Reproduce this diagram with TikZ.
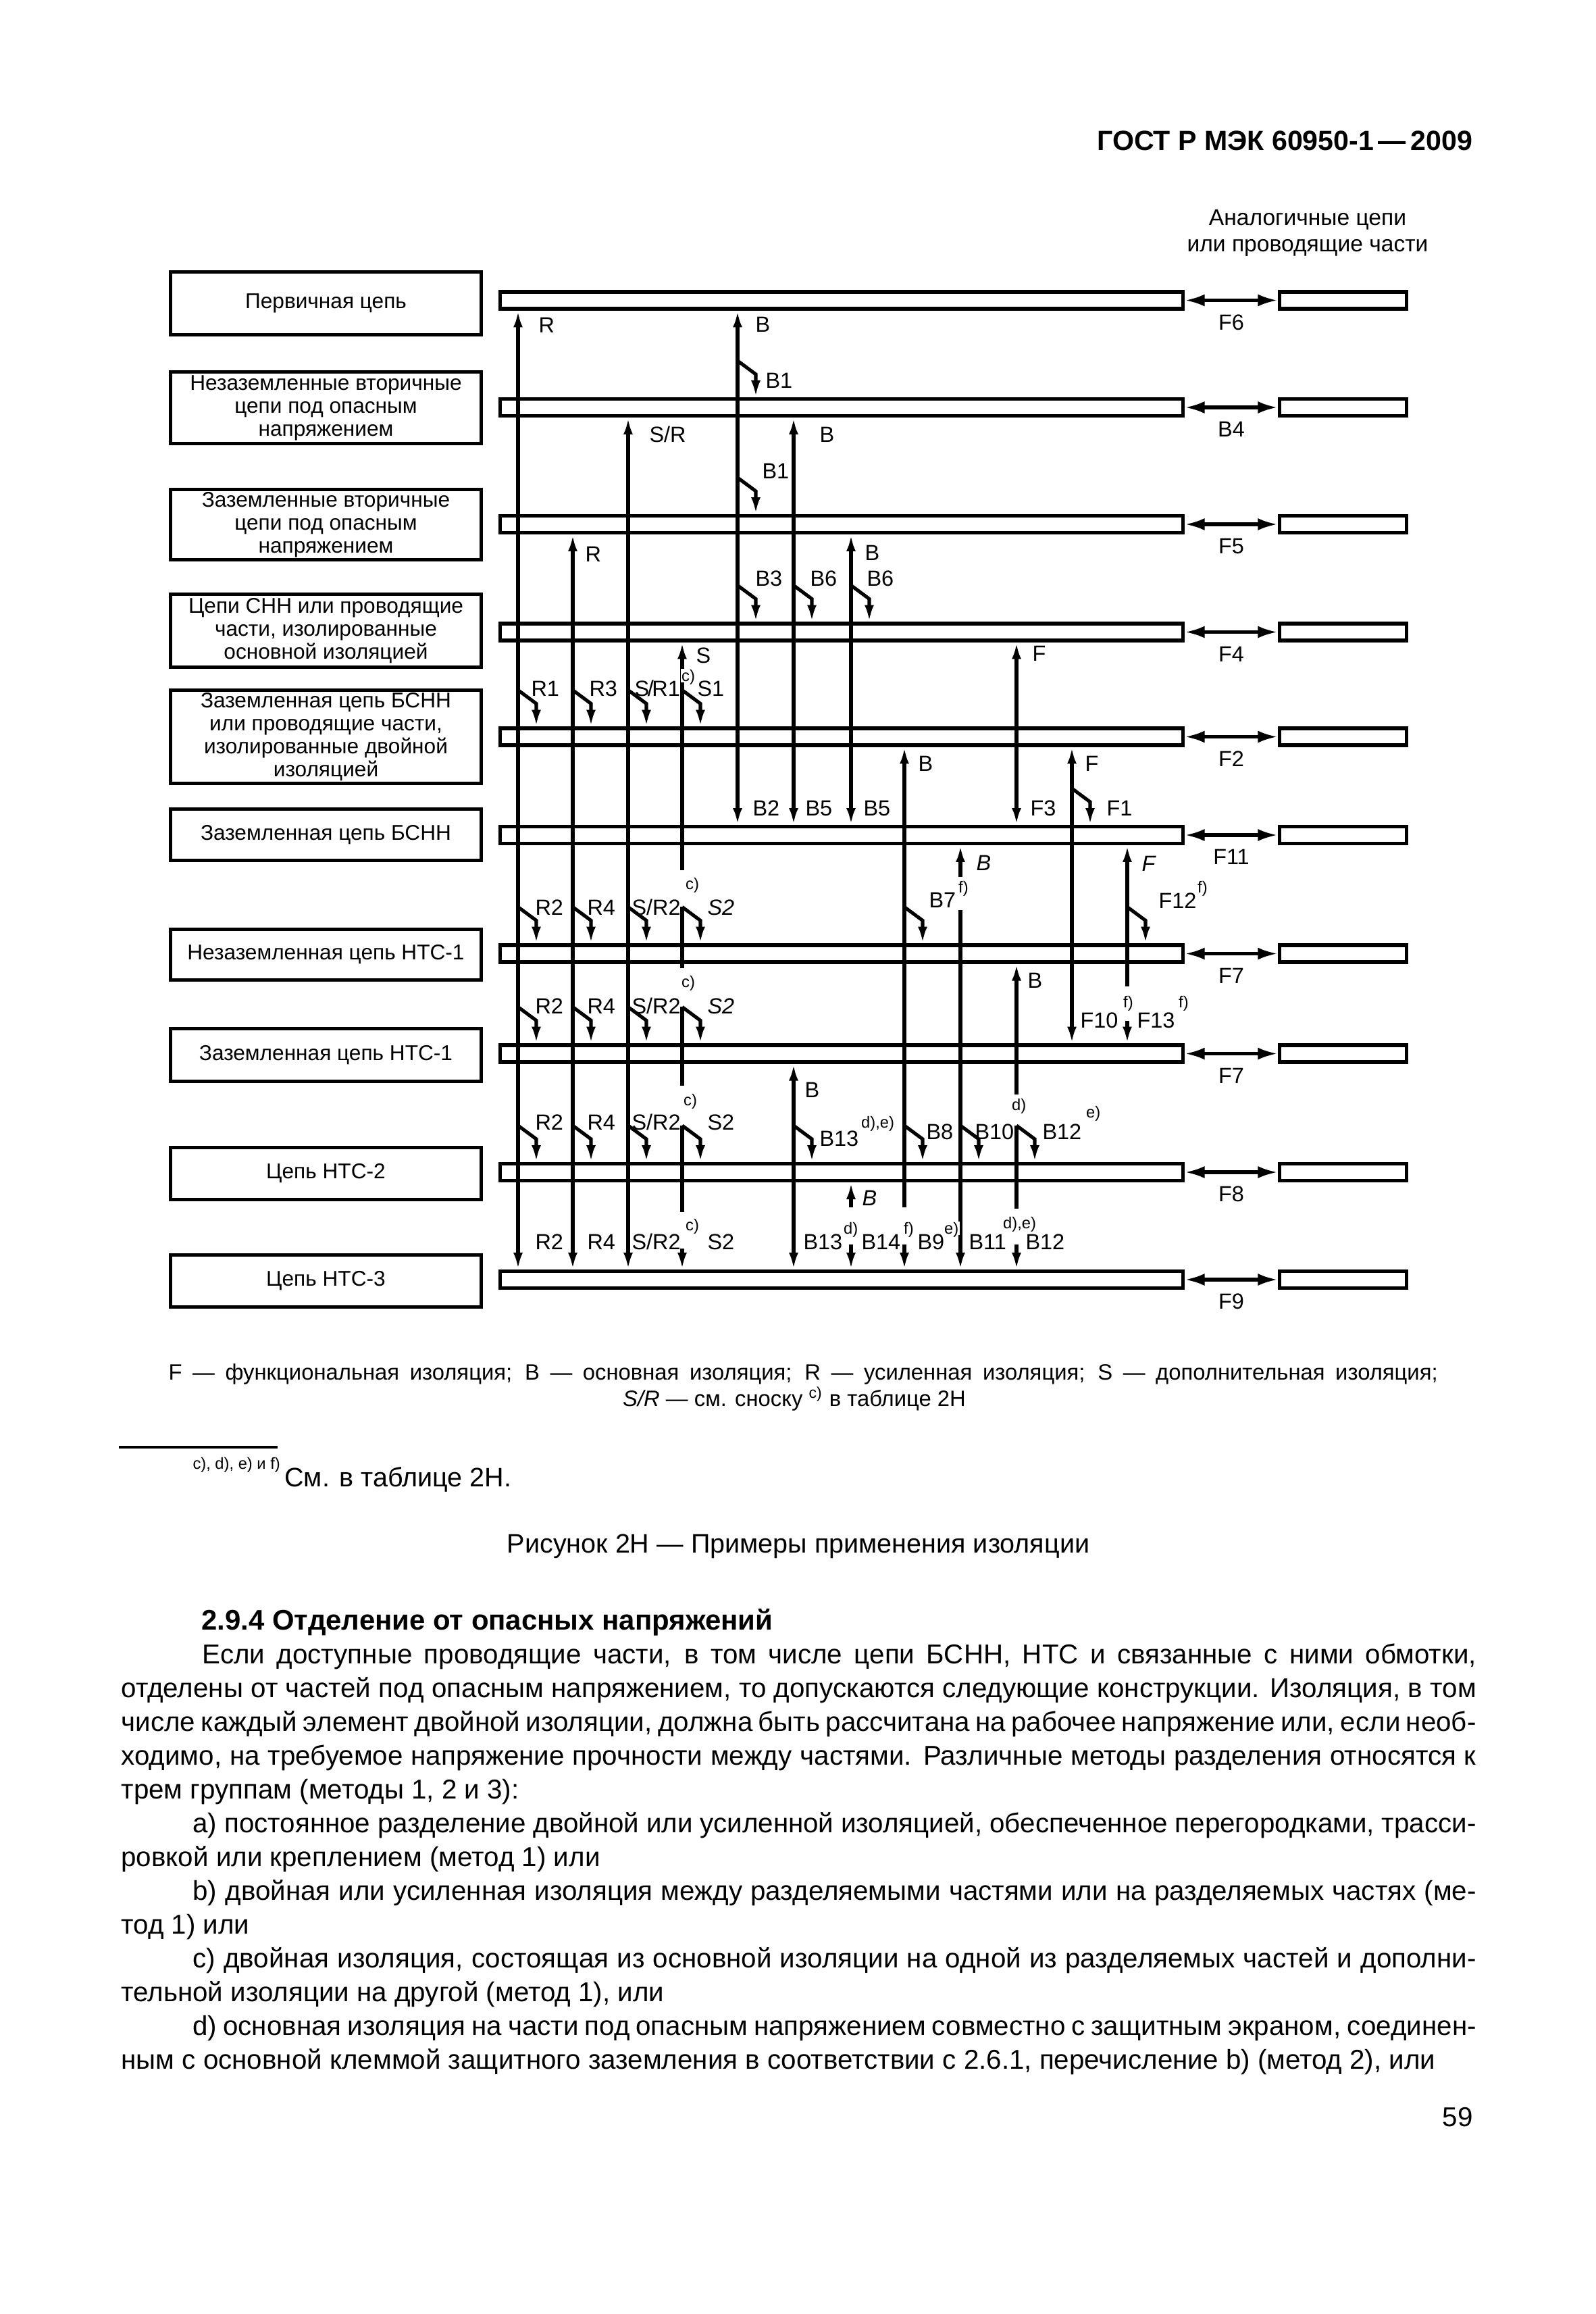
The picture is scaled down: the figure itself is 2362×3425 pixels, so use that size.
\documentclass[tikz,border=0pt]{standalone}
\usepackage{fontspec}
\setmainfont{Liberation Sans}
\usetikzlibrary{arrows.meta,calc}

% insulation tap: short bent arrow from a column down to a bar
\newcommand{\tap}[2]{\draw[->] ($(#1|-#2.north)+(0,-54)$) -- ++(27,20) -- ($(#1|-#2.north)+(27,0)$);}

\tikzset{
  cbox/.style={draw, minimum width=460*0.0889mm, inner sep=0pt, align=center, font=\fontsize{8}{8.6}\selectfont},
  bar/.style={draw, minimum width=1011*0.0889mm, minimum height=25*0.0889mm, inner sep=0pt},
  rbox/.style={draw, minimum width=188*0.0889mm, minimum height=25*0.0889mm, inner sep=0pt},
  dbl/.style={{Latex[length=7.5pt,width=4.6pt]}-{Latex[length=7.5pt,width=4.6pt]}, line width=1.3pt},
  lbl/.style={inner sep=0pt, anchor=west, text height=5.9pt, text depth=0pt, font=\fontsize{8.2}{9}\selectfont},
  supl/.style={inner sep=0.4pt, anchor=west, fill=white, text height=4.3pt, text depth=0pt, font=\fontsize{6}{7}\selectfont},
  txt/.style={inner sep=0pt, anchor=base west, font=\fontsize{10.2}{12.6}\selectfont},
}

\begin{document}
\begin{tikzpicture}[x=0.0889mm, y=-0.0889mm, line width=1.3pt, >={Latex[length=6.3pt,width=3.5pt]}]
\path[use as bounding box, fill=white] (0,0) rectangle (2362,3425);

% header
\node[inner sep=0pt, anchor=base east, font=\fontsize{10.4}{12}\selectfont\bfseries] (hdr) at (2183,222) {ГОСТ Р МЭК 60950-1\,—\,2009};
\node[inner sep=0pt, anchor=base, font=\fontsize{8.5}{10}\selectfont] (an1) at (1936,333) {Аналогичные цепи};
\node[inner sep=0pt, anchor=base, font=\fontsize{8.5}{10}\selectfont] (an2) at (1936,372) {или проводящие части};

% circuits
\foreach \n/\y/\h/\t in {
  1/449/98/{Первичная цепь},
  2/603.5/111/{Незаземленные вторичные\\цепи под опасным\\напряжением},
  3/776.5/109/{Заземленные вторичные\\цепи под опасным\\напряжением},
  4/933.5/113/{Цепи СНН или проводящие\\части, изолированные\\основной изоляцией},
  5/1090.5/143/{Заземленная цепь БСНН\\или проводящие части,\\изолированные двойной\\изоляцией},
  6/1235.5/81/{Заземленная цепь БСНН},
  7/1413/80/{Незаземленная цепь НТС-1},
  8/1561.5/83/{Заземленная цепь НТС-1},
  9/1737/82/{Цепь НТС-2},
  10/1896/82/{Цепь НТС-3}}
  \node[cbox, minimum height=(\h-5)*0.0889mm] (c\n) at (482.5,\y) {\t};

% bars and similar circuits
\foreach \n/\y/\f in {1/444.5/F6, 2/603/B4, 3/776/F5, 4/935.5/F4, 5/1090.5/F2,
  6/1236/F11, 7/1411.5/F7, 8/1559.5/F7, 9/1735/F8, 10/1894/F9}{
  \node[bar] (b\n) at (1246,\y) {};
  \node[rbox] (r\n) at (1988.5,\y) {};
  \draw[dbl] (b\n) -- (r\n);
  \node[lbl, anchor=north] (f\n) at ($(b\n.south east)!.5!(r\n.south west)+(0,3)$) {\f};
}

% columns
\coordinate (cR) at (767,0);
\coordinate (cR3) at (848,0);
\coordinate (cSR) at (930,0);
\coordinate (cS) at (1010,0);
\coordinate (cB1) at (1092,0);
\coordinate (cB5) at (1175,0);
\coordinate (cB6) at (1260,0);
\coordinate (cB7) at (1339,0);
\coordinate (cB10) at (1422,0);
\coordinate (cF) at (1505,0);
\coordinate (cF1) at (1587,0);
\coordinate (cF12) at (1669,0);

\draw[<->] (cR|-b1.south) -- (cR|-b10.north);
\draw[<->] (cR3|-b3.south) -- (cR3|-b10.north);
\draw[<->] (cSR|-b2.south) -- (cSR|-b10.north);
\draw[<-] (cS|-b4.south) -- ($(cS|-b6.south)+(0,37)$);
\draw ($(cS|-b7.north)+(0,-54)$) -- ($(cS|-b7.south)+(0,6)$);
\draw ($(cS|-b8.north)+(0,-54)$) -- ($(cS|-b8.south)+(0,32)$);
\draw ($(cS|-b9.north)+(0,-54)$) -- ($(cS|-b9.south)+(0,44)$);
\draw[->] ($(cS|-b10.north)+(0,-31)$) -- (cS|-b10.north);
\draw[<->] (cB1|-b1.south) -- (cB1|-b6.north);
\draw[<->] (cB5|-b2.south) -- (cB5|-b6.north);
\draw[<->] (cB6|-b3.south) -- (cB6|-b6.north);
\draw[<->] (cF|-b4.south) -- (cF|-b6.north);
\draw[<-] (cB7|-b5.south) -- ($(cB7|-b9.south)+(0,37)$);
\draw[->] ($(cB7|-b10.north)+(0,-37)$) -- (cB7|-b10.north);
\draw[<-] (cB10|-b6.south) -- ($(cB10|-b6.south)+(0,47)$);
\draw[->] ($(cB10|-b7.north)+(0,-49)$) -- (cB10|-b10.north);
\draw[<-] (cF|-b7.south) -- ($(cF|-b8.south)+(0,45)$);
\draw ($(cF|-b9.north)+(0,-54)$) -- ($(cF|-b9.south)+(0,39)$);
\draw[->] ($(cF|-b10.north)+(0,-37)$) -- (cF|-b10.north);
\draw[<->] (cB5|-b8.south) -- (cB5|-b10.north);
\draw[<-] (cB6|-b9.south) -- ($(cB6|-b9.south)+(0,37)$);
\draw[->] ($(cB6|-b10.north)+(0,-37)$) -- (cB6|-b10.north);
\draw[<->] (cF1|-b5.south) -- (cF1|-b8.north);
\draw[<-] (cF12|-b6.south) -- ($(cF12|-b7.south)+(0,33)$);
\draw[->] ($(cF12|-b8.north)+(0,-33)$) -- (cF12|-b8.north);

% bent taps
\tap{cB1}{b2} \tap{cB1}{b3}
\tap{cB1}{b4} \tap{cB5}{b4} \tap{cB6}{b4}
\foreach \c in {cR,cR3,cSR,cS}{\tap{\c}{b5} \tap{\c}{b7} \tap{\c}{b8} \tap{\c}{b9}}
\tap{cF1}{b6}
\tap{cB7}{b7} \tap{cF12}{b7}
\tap{cB5}{b9} \tap{cB7}{b9} \tap{cB10}{b9} \tap{cF}{b9}

% labels
\foreach \x/\y/\t [count=\i] in {
  795/481/R, 1116/480/B, 1131/563/B1, 959/643/{S/R}, 1211/643/B, 1126/697/B1,
  864/820/R, 1278/818/B, 1116/856/B3, 1197/856/B6, 1281/856/B6,
  1028/970/S, 1526/967/F, 784/1019/R1, 870/1019/R3, 937/1019/{S\kern-0.6pt/\kern-0.6pt R1}, 1030/1019/S1,
  1357/1130/B, 1604/1130/F, 1112/1196/B2, 1190/1196/B5, 1276/1196/B5, 1523/1196/F3, 1636/1196/F1,
  1443/1277/{\itshape B}, 1688/1278/{\itshape F}, 1373/1332/B7, 1713/1333/F12,
  790/1343/R2, 867/1343/R4, 933/1343/{S/R2}, 1045/1343/{\itshape S2},
  1519/1451/B, 790/1489/R2, 867/1489/R4, 933/1489/{S/R2}, 1045/1489/{\itshape S2},
  1597/1510/F10, 1681/1510/F13,
  1189/1613/B, 790/1661/R2, 867/1661/R4, 933/1661/{S/R2}, 1045/1661/S2,
  1211/1685/B13, 1369/1675/B8, 1441/1675/B10, 1541/1675/B12, 1274/1773/{\itshape B},
  790/1838/R2, 867/1838/R4, 933/1838/{S/R2}, 1045/1838/S2,
  1187/1838/B13, 1273/1838/B14, 1356/1838/B9, 1432/1838/B11, 1516/1838/B12}
  \node[lbl] (lab\i) at (\x,\y) {\t};

\foreach \x/\y/\t [count=\i] in {
  1005/1000/c), 1011/1308/c), 1415/1313/f), 1769/1313/f), 1005/1453/c),
  1659/1483/f), 1741/1483/f), 1008/1628/c), 1494/1635/d), 1271/1661/{d),e)},
  1604/1646/e), 1011/1813/c), 1245/1818/d), 1334/1818/f), 1394/1818/e), 1481/1810/{d),e)}}
  \node[supl] (sup\i) at (\x,\y) {\t};

% legend, footnote, caption
\node[inner sep=0pt, anchor=base west, font=\fontsize{8.3}{10}\selectfont] (leg1) at (247,2042)
  {\makebox[167.04mm][s]{F — функциональная изоляция; B — основная изоляция; R — усиленная изоляция; S — дополнительная изоляция;}};
\node[inner sep=0pt, anchor=base, font=\fontsize{8.3}{10}\selectfont] (leg2) at (1176,2081)
  {\textit{S/R} — см. сноску \textsuperscript{c)} в таблице 2Н};
\draw[line width=0.8pt] (176,2142) -- (411,2142);
\node[inner sep=0pt, anchor=base west, font=\fontsize{10}{12}\selectfont] (fn) at (283,2200)
  {\raisebox{1.2ex}{\fontsize{6}{7}\selectfont c), d), e) и f)}\,См. в таблице 2Н.};
\node[inner sep=0pt, anchor=base, font=\fontsize{10}{12}\selectfont] (cap) at (1182,2298)
  {Рисунок 2Н — Примеры применения изоляции};

% text
\node[txt, font=\fontsize{10.6}{12.6}\selectfont\bfseries] (head) at (296,2412) {2.9.4 Отделение от опасных напряжений};
\node[txt] (t1) at (297,2462) {\makebox[167.67mm][s]{Если доступные проводящие части, в том числе цепи БСНН, НТС и связанные с ними обмотки,}};
\node[txt] (t2) at (177,2512) {\makebox[178.33mm][s]{отделены от частей под опасным напряжением, то допускаются следующие конструкции. Изоляция, в том}};
\node[txt] (t3) at (177,2562) {\makebox[178.33mm][s]{числе каждый элемент двойной изоляции, должна быть рассчитана на рабочее напряжение или, если необ-}};
\node[txt] (t4) at (177,2612) {\makebox[178.33mm][s]{ходимо, на требуемое напряжение прочности между частями. Различные методы разделения относятся к}};
\node[txt] (t5) at (177,2662) {трем группам (методы 1, 2 и 3):};
\node[txt] (t6) at (283,2712) {\makebox[168.91mm][s]{a) постоянное разделение двойной или усиленной изоляцией, обеспеченное перегородками, трасси-}};
\node[txt] (t7) at (177,2762) {ровкой или креплением (метод 1) или};
\node[txt] (t8) at (283,2812) {\makebox[168.91mm][s]{b) двойная или усиленная изоляция между разделяемыми частями или на разделяемых частях (ме-}};
\node[txt] (t9) at (177,2862) {тод 1) или};
\node[txt] (t10) at (283,2912) {\makebox[168.91mm][s]{c) двойная изоляция, состоящая из основной изоляции на одной из разделяемых частей и дополни-}};
\node[txt] (t11) at (177,2962) {тельной изоляции на другой (метод 1), или};
\node[txt] (t12) at (283,3012) {\makebox[168.91mm][s]{d) основная изоляция на части под опасным напряжением совместно с защитным экраном, соединен-}};
\node[txt] (t13) at (177,3062) {ным с основной клеммой защитного заземления в соответствии с 2.6.1, перечисление b) (метод 2), или};
\node[txt, anchor=base east] (pg) at (2183,3147) {59};
\end{tikzpicture}
\end{document}
